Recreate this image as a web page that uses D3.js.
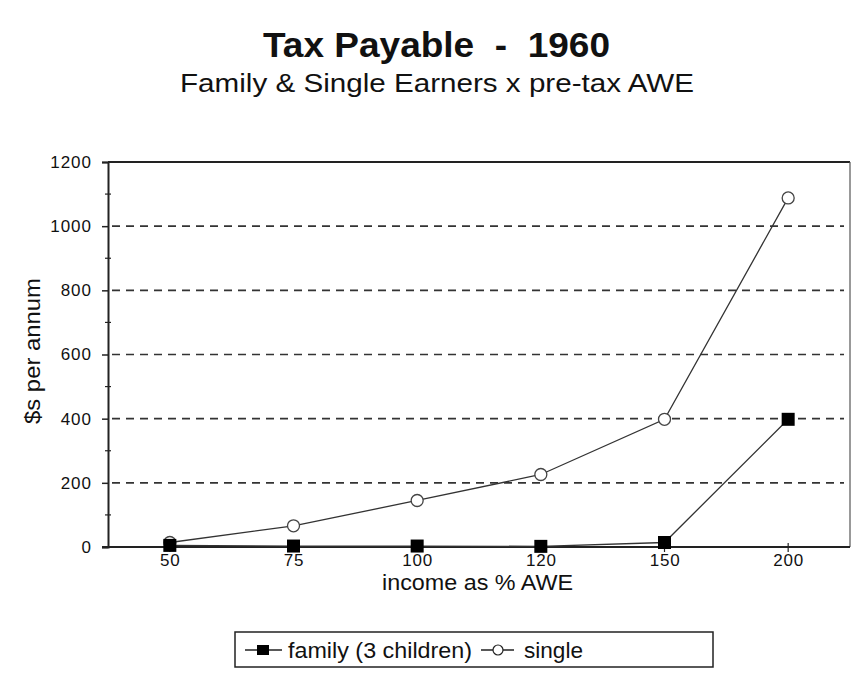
<!DOCTYPE html>
<html><head><meta charset="utf-8">
<script src="https://cdn.jsdelivr.net/npm/d3@7"></script>
<style>body{margin:0;background:#fff;}svg{display:block;font-family:"Liberation Sans",Arial,sans-serif;}</style>
</head><body>
<svg id="c" width="861" height="679"></svg>
<script>
const categories = ["50","75","100","120","150","200"];
const familyValues = [5, 3, 3, 2, 14, 398];
const singleValues = [14, 66, 145, 226, 398, 1088];
const yTicks = [0,200,400,600,800,1000,1200];
const yMinor = [100,300,500,700,900,1100];
const titleText = "Tax Payable  -  1960";
const subtitleText = "Family & Single Earners x pre-tax AWE";
const xTitle = "income as % AWE";
const yTitle = "$s per annum";
const seriesNames = ["family (3 children)", "single"];

const svg = d3.select("#c");
const L = 108, R = 850, T = 162, B = 547;
const x = d3.scalePoint().domain(categories).range([L, R]).padding(0.5);
const y = d3.scaleLinear().domain([0,1200]).range([B, T]);
const ink = "#222";
const FF = "Liberation Sans, Arial, sans-serif";

svg.append("text").attr("x", 263).attr("y", 57)
  .attr("font-size", 35).attr("font-weight","bold").attr("fill","#111")
  .style("white-space","pre").attr("textLength", 347).attr("lengthAdjust","spacingAndGlyphs").text(titleText);
svg.append("text").attr("x", 180).attr("y", 92)
  .attr("font-size", 25).attr("fill","#111")
  .attr("textLength", 514).attr("lengthAdjust","spacingAndGlyphs").text(subtitleText);

// gridlines
svg.append("g").selectAll("line").data(yTicks.filter(d=>d>0 && d<1200)).join("line")
  .attr("x1", L+4).attr("x2", 844).attr("y1", d=>y(d)).attr("y2", d=>y(d))
  .attr("stroke", "#333").attr("stroke-width", 1.6).attr("stroke-dasharray","8,6");

// frame top and right
svg.append("line").attr("x1", L).attr("x2", R).attr("y1", T).attr("y2", T).attr("stroke", ink).attr("stroke-width", 2);
svg.append("line").attr("x1", R).attr("x2", R).attr("y1", T).attr("y2", B).attr("stroke", "#555").attr("stroke-width", 1.2);

// y axis
const yAxis = svg.append("g").attr("transform", `translate(${L},0)`)
  .call(d3.axisLeft(y).tickValues(yTicks).tickFormat(d3.format("d")).tickSize(6).tickPadding(10));
yAxis.select(".domain").attr("stroke", ink).attr("stroke-width", 2);
yAxis.selectAll(".tick line").attr("stroke", ink).attr("stroke-width", 1.5);
yAxis.selectAll(".tick text").attr("font-size", 17).attr("letter-spacing", 1).attr("fill","#111").attr("font-family",FF);
svg.append("g").selectAll("line").data(yMinor).join("line")
  .attr("x1", L-3).attr("x2", L+3).attr("y1", d=>y(d)).attr("y2", d=>y(d))
  .attr("stroke", ink).attr("stroke-width", 1.2);

// x axis
const xAxis = svg.append("g").attr("transform", `translate(0,${B})`)
  .call(d3.axisBottom(x).tickSize(0).tickPadding(7));
xAxis.select(".domain").attr("d", `M${L-6},0H${R}`).attr("stroke", ink).attr("stroke-width", 2);
xAxis.selectAll(".tick text").attr("font-size", 17).attr("letter-spacing", 0.8).attr("fill","#111").attr("font-family",FF);
svg.append("g").selectAll("line").data(categories).join("line")
  .attr("x1", d=>x(d)).attr("x2", d=>x(d)).attr("y1", B-4).attr("y2", B+5)
  .attr("stroke", ink).attr("stroke-width", 1.2);

svg.append("text").attr("x", 382).attr("y", 590)
  .attr("font-size", 22).attr("fill","#111").attr("textLength", 191).attr("lengthAdjust","spacingAndGlyphs").text(xTitle);
svg.append("text").attr("transform","translate(40,424) rotate(-90)")
  .attr("font-size", 22).attr("fill","#111").attr("textLength", 146).attr("lengthAdjust","spacingAndGlyphs").text(yTitle);

// lines
const line = d3.line().x((d,i)=>x(categories[i])).y(d=>y(d));
svg.append("path").datum(singleValues).attr("d", line).attr("fill","none").attr("stroke","#333").attr("stroke-width",1.3);
svg.append("path").datum(familyValues).attr("d", line).attr("fill","none").attr("stroke","#333").attr("stroke-width",1.3);

svg.append("g").selectAll("circle").data(singleValues).join("circle")
  .attr("cx",(d,i)=>x(categories[i])).attr("cy", d=>y(d)).attr("r", 6)
  .attr("fill","#fff").attr("stroke","#444").attr("stroke-width",1.3);
svg.append("g").selectAll("rect").data(familyValues).join("rect")
  .attr("x",(d,i)=>x(categories[i])-6.5).attr("y", d=>y(d)-6.5).attr("width",13).attr("height",13)
  .attr("fill","#000");

// legend
const lg = svg.append("g");
lg.append("rect").attr("x",235).attr("y",632).attr("width",478).attr("height",35)
  .attr("fill","#fff").attr("stroke","#222").attr("stroke-width",1.5);
const ly = 650;
lg.append("line").attr("x1",245).attr("x2",282).attr("y1",ly).attr("y2",ly).attr("stroke","#222").attr("stroke-width",1.5);
lg.append("rect").attr("x",257).attr("y",ly-5).attr("width",12).attr("height",10).attr("fill","#000");
lg.append("text").attr("x",288).attr("y",ly+8).attr("font-size",22).attr("fill","#111")
  .attr("textLength",184).attr("lengthAdjust","spacingAndGlyphs").text(seriesNames[0]);
lg.append("line").attr("x1",481).attr("x2",514).attr("y1",ly).attr("y2",ly).attr("stroke","#222").attr("stroke-width",1.5);
lg.append("circle").attr("cx",498).attr("cy",ly).attr("r",5).attr("fill","#fff").attr("stroke","#222").attr("stroke-width",1.2);
lg.append("text").attr("x",524).attr("y",ly+8).attr("font-size",22).attr("fill","#111")
  .attr("textLength",59).attr("lengthAdjust","spacingAndGlyphs").text(seriesNames[1]);
</script>
</body></html>
